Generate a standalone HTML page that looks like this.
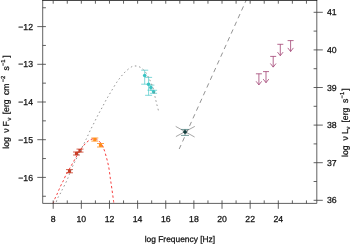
<!DOCTYPE html>
<html><head><meta charset="utf-8"><title>SED</title>
<style>html,body{margin:0;padding:0;background:#fff;overflow:hidden}svg{display:block}</style>
</head><body>
<svg width="350" height="244" viewBox="0 0 350 244">
<rect width="350" height="244" fill="#fff"/>
<path d="M53.00 203.60 C53.32 202.77 54.25 200.12 54.90 198.60 C55.55 197.08 56.22 196.00 56.90 194.50 C57.58 193.00 58.30 191.18 59.00 189.60 C59.70 188.02 60.37 186.50 61.10 185.00 C61.83 183.50 62.65 182.15 63.40 180.60 C64.15 179.05 64.50 177.82 65.60 175.70 C66.70 173.58 68.40 170.73 70.00 167.90 C71.60 165.07 73.53 161.60 75.20 158.70 C76.87 155.80 78.70 152.55 80.00 150.50 C81.30 148.45 81.97 147.68 83.00 146.40 C84.03 145.12 85.12 143.83 86.20 142.80 C87.28 141.77 88.12 140.90 89.50 140.20 C90.88 139.50 92.92 138.47 94.50 138.60 C96.08 138.73 97.55 139.53 99.00 141.00 C100.45 142.47 102.00 144.80 103.20 147.40 C104.40 150.00 105.28 153.35 106.20 156.60 C107.12 159.85 108.02 163.30 108.70 166.90 C109.38 170.50 109.77 174.52 110.30 178.20 C110.83 181.88 111.30 184.77 111.90 189.00 C112.50 193.23 113.57 201.17 113.90 203.60" fill="none" stroke="#f52828" stroke-width="0.9" stroke-dasharray="2.3 2.4"/>
<path d="M246.3 0 L179.2 149" fill="none" stroke="#777" stroke-width="0.8" stroke-dasharray="4.6 3.85" stroke-dashoffset="1.5"/>
<path d="M42.7 0 V203.4 H316.8 V0" fill="none" stroke="#3a3a3a" stroke-width="0.8"/>
<path d="M42.300000000000004 0.35 H317.2" fill="none" stroke="#111" stroke-width="0.9"/>
<path d="M53.20 203.4 v-3.0 M53.20 0.5 v3.2 M53.20 203.4 v5.4 M67.27 203.4 v-3.0 M67.27 0.5 v3.2 M81.34 203.4 v-3.0 M81.34 0.5 v3.2 M81.34 203.4 v5.4 M95.41 203.4 v-3.0 M95.41 0.5 v3.2 M109.48 203.4 v-3.0 M109.48 0.5 v3.2 M109.48 203.4 v5.4 M123.54 203.4 v-3.0 M123.54 0.5 v3.2 M137.61 203.4 v-3.0 M137.61 0.5 v3.2 M137.61 203.4 v5.4 M151.68 203.4 v-3.0 M151.68 0.5 v3.2 M165.75 203.4 v-3.0 M165.75 0.5 v3.2 M165.75 203.4 v5.4 M179.82 203.4 v-3.0 M179.82 0.5 v3.2 M193.89 203.4 v-3.0 M193.89 0.5 v3.2 M193.89 203.4 v5.4 M207.96 203.4 v-3.0 M207.96 0.5 v3.2 M222.03 203.4 v-3.0 M222.03 0.5 v3.2 M222.03 203.4 v5.4 M236.09 203.4 v-3.0 M236.09 0.5 v3.2 M250.16 203.4 v-3.0 M250.16 0.5 v3.2 M250.16 203.4 v5.4 M264.23 203.4 v-3.0 M264.23 0.5 v3.2 M278.30 203.4 v-3.0 M278.30 0.5 v3.2 M278.30 203.4 v5.4 M292.37 203.4 v-3.0 M292.37 0.5 v3.2 M306.44 203.4 v-3.0 M306.44 0.5 v3.2 M42.7 7.75 h3.2 M42.7 26.60 h3.2 M42.7 26.60 h-5.4 M42.7 45.45 h3.2 M42.7 64.30 h3.2 M42.7 64.30 h-5.4 M42.7 83.15 h3.2 M42.7 102.00 h3.2 M42.7 102.00 h-5.4 M42.7 120.85 h3.2 M42.7 139.70 h3.2 M42.7 139.70 h-5.4 M42.7 158.55 h3.2 M42.7 177.40 h3.2 M42.7 177.40 h-5.4 M42.7 196.25 h3.2 M316.8 200.30 h-3.2 M316.8 200.30 h6.0 M316.8 181.50 h-3.2 M316.8 162.70 h-3.2 M316.8 162.70 h6.0 M316.8 143.90 h-3.2 M316.8 125.10 h-3.2 M316.8 125.10 h6.0 M316.8 106.30 h-3.2 M316.8 87.50 h-3.2 M316.8 87.50 h6.0 M316.8 68.70 h-3.2 M316.8 49.90 h-3.2 M316.8 49.90 h6.0 M316.8 31.10 h-3.2 M316.8 12.30 h-3.2 M316.8 12.30 h6.0" fill="none" stroke="#3a3a3a" stroke-width="0.8"/>
<g font-family="'Liberation Sans', Arial, Helvetica, sans-serif" font-size="8.7" fill="#111" stroke="#111" stroke-width="0.25" text-rendering="geometricPrecision">
<text x="53.20" y="222.4" text-anchor="middle">8</text>
<text x="81.34" y="222.4" text-anchor="middle">10</text>
<text x="109.48" y="222.4" text-anchor="middle">12</text>
<text x="137.61" y="222.4" text-anchor="middle">14</text>
<text x="165.75" y="222.4" text-anchor="middle">16</text>
<text x="193.89" y="222.4" text-anchor="middle">18</text>
<text x="222.03" y="222.4" text-anchor="middle">20</text>
<text x="250.16" y="222.4" text-anchor="middle">22</text>
<text x="278.30" y="222.4" text-anchor="middle">24</text>
<text x="33.0" y="180.55" text-anchor="end">−16</text>
<text x="33.0" y="142.85" text-anchor="end">−15</text>
<text x="33.0" y="105.15" text-anchor="end">−14</text>
<text x="33.0" y="67.45" text-anchor="end">−13</text>
<text x="33.0" y="29.75" text-anchor="end">−12</text>
<text x="327.0" y="203.40">36</text>
<text x="327.0" y="165.80">37</text>
<text x="327.0" y="128.20">38</text>
<text x="327.0" y="90.60">39</text>
<text x="327.0" y="53.00">40</text>
<text x="327.0" y="15.40">41</text>
<text x="179.9" y="241.8" text-anchor="middle" font-size="8.4">log Frequency [Hz]</text>
<text transform="translate(8.9 148.2) rotate(-90)" font-size="8.7"><tspan x="-0.5" y="0">log</tspan><tspan x="15.4" y="0">ν</tspan><tspan x="21.7" y="0">F</tspan><tspan x="27.7" y="1.9" font-size="5.8">ν</tspan><tspan x="33.9" y="0">[erg</tspan><tspan x="53.2" y="0">cm</tspan><tspan x="65.9" y="-3.6" font-size="5.8">−2</tspan><tspan x="77.8" y="0">s</tspan><tspan x="82.2" y="-3.6" font-size="5.8">−1</tspan><tspan x="90.4" y="0">]</tspan></text>
<text transform="translate(347.7 156.4) rotate(-90)" font-size="8.7"><tspan x="-0.5" y="0">log</tspan><tspan x="15.9" y="0">ν</tspan><tspan x="22.5" y="0">L</tspan><tspan x="27.0" y="1.9" font-size="5.8">ν</tspan><tspan x="33.8" y="0">[erg</tspan><tspan x="53.4" y="0">s</tspan><tspan x="58.0" y="-3.6" font-size="5.8">−1</tspan><tspan x="65.6" y="0">]</tspan></text>
</g>
<g stroke="#c93d26" fill="#c93d26" stroke-width="0.8"><path d="M69.5 169.6 V172.8 M66.0 169.6 h7.0 M66.0 172.8 h7.0" fill="none"/><rect x="67.9" y="169.6" width="3.2" height="3.2" stroke="none"/></g>
<g stroke="#c93d26" fill="#c93d26" stroke-width="0.8"><path d="M76.5 152.0 V155.0 M73.0 152.0 h7.0 M73.0 155.0 h7.0" fill="none"/><rect x="74.9" y="151.9" width="3.2" height="3.2" stroke="none"/></g>
<g stroke="#c93d26" fill="#c93d26" stroke-width="0.8"><path d="M80.0 149.1 V152.1 M76.5 149.1 h7.0 M76.5 152.1 h7.0" fill="none"/><rect x="78.4" y="149.0" width="3.2" height="3.2" stroke="none"/></g>
<g stroke="#ff8c18" fill="#ff8c18" stroke-width="0.8"><path d="M94.8 138.0 V141.1 M91.3 138.0 h7.0 M91.3 141.1 h7.0" fill="none"/><rect x="93.2" y="137.9" width="3.2" height="3.2" stroke="none"/></g>
<g stroke="#ff8c18" fill="#ff8c18" stroke-width="0.8"><path d="M100.5 143.5 V147.0 M97.0 143.5 h7.0 M97.0 147.0 h7.0" fill="none"/><rect x="98.9" y="143.6" width="3.2" height="3.2" stroke="none"/></g>
<g stroke="#3cc4c4" fill="#3cc4c4" stroke-width="0.65"><path d="M144.7 70.2 V84.2 M141.2 70.2 h7.0 M141.2 84.2 h7.0" fill="none"/><circle cx="144.7" cy="75.5" r="1.8" stroke="none"/></g>
<g stroke="#3cc4c4" fill="#3cc4c4" stroke-width="0.65"><path d="M148.6 77.4 V95.3 M145.1 77.4 h7.0 M145.1 95.3 h7.0" fill="none"/><circle cx="148.6" cy="84.2" r="1.8" stroke="none"/></g>
<g stroke="#3cc4c4" fill="#3cc4c4" stroke-width="0.65"><path d="M150.9 85.1 V90.2 M147.4 85.1 h7.0 M147.4 90.2 h7.0" fill="none"/><circle cx="150.9" cy="87.5" r="1.8" stroke="none"/></g>
<g stroke="#3cc4c4" fill="#3cc4c4" stroke-width="0.65"><path d="M153.6 90.3 V93.3 M150.1 90.3 h7.0 M150.1 93.3 h7.0" fill="none"/><circle cx="153.6" cy="91.8" r="1.8" stroke="none"/></g>
<path d="M55.80 203.60 C56.07 202.77 56.73 200.12 57.40 198.60 C58.07 197.08 58.98 196.00 59.80 194.50 C60.62 193.00 61.07 192.05 62.30 189.60 C63.53 187.15 65.57 183.48 67.20 179.80 C68.83 176.12 70.38 171.40 72.10 167.50 C73.82 163.60 75.42 160.60 77.50 156.40 C79.58 152.20 83.02 145.47 84.60 142.30 C86.18 139.13 86.12 139.27 87.00 137.40 C87.88 135.53 88.73 133.50 89.90 131.10 C91.07 128.70 92.63 125.72 94.00 123.00 C95.37 120.28 96.73 117.40 98.10 114.80 C99.47 112.20 100.83 109.93 102.20 107.40 C103.57 104.87 104.80 102.27 106.30 99.60 C107.80 96.93 109.45 94.30 111.20 91.40 C112.95 88.50 115.13 84.70 116.80 82.20 C118.47 79.70 119.75 78.17 121.20 76.40 C122.65 74.63 123.77 73.20 125.50 71.60 C127.23 70.00 129.82 67.73 131.60 66.80 C133.38 65.87 134.75 65.92 136.20 66.00 C137.65 66.08 139.10 66.68 140.30 67.30 C141.50 67.92 142.37 68.65 143.40 69.70 C144.43 70.75 145.67 72.33 146.50 73.60 C147.33 74.87 147.78 76.10 148.40 77.30 C149.02 78.50 149.60 79.50 150.20 80.80 C150.80 82.10 151.48 83.77 152.00 85.10 C152.52 86.43 152.80 86.87 153.30 88.80 C153.80 90.73 154.55 94.67 155.00 96.70 C155.45 98.73 155.67 99.60 156.00 101.00 C156.33 102.40 156.65 103.73 157.00 105.10 C157.35 106.47 157.87 108.28 158.10 109.20 C158.33 110.12 158.35 110.37 158.40 110.60" fill="none" stroke="#808080" stroke-width="0.85" stroke-dasharray="1.5 2.8" stroke-dashoffset="2.45" id="gc"/>
<path d="M175.7 126.4 L194.6 137 M175.9 136.6 L194.8 126.4" stroke="#808080" stroke-width="0.7" fill="none"/>
<g stroke="#3f7472" fill="#3f7472" stroke-width="0.7"><path d="M185.0 129.45 V135.4 M181.0 129.45 h8.0 M181.0 135.4 h8.0" fill="none"/><path d="M185.0 131.9 L185.1 132.0 L185.0 132.1 L184.9 132.0 Z" stroke="none"/></g>
<path d="M185 129.7 L187.1 131.9 L185 134.1 L182.9 131.9 Z" fill="#123c3c" stroke="#123c3c" stroke-width="0.3" stroke-linejoin="round"/>
<path d="M255.89999999999998 73.8 h6 M258.9 73.8 V84.9 M256.09999999999997 81.30000000000001 L258.9 84.9 L261.7 81.30000000000001" fill="none" stroke="#a24274" stroke-width="0.8" stroke-linejoin="miter"/>
<path d="M263.0 71.6 h6 M266.0 71.6 V82.7 M263.2 79.10000000000001 L266.0 82.7 L268.8 79.10000000000001" fill="none" stroke="#a24274" stroke-width="0.8" stroke-linejoin="miter"/>
<path d="M270.2 56.4 h6 M273.2 56.4 V67.1 M270.4 63.49999999999999 L273.2 67.1 L276.0 63.49999999999999" fill="none" stroke="#a24274" stroke-width="0.8" stroke-linejoin="miter"/>
<path d="M277.3 44.3 h6 M280.3 44.3 V55.7 M277.5 52.1 L280.3 55.7 L283.1 52.1" fill="none" stroke="#a24274" stroke-width="0.8" stroke-linejoin="miter"/>
<path d="M287.6 40.6 h6 M290.6 40.6 V51.5 M287.8 47.9 L290.6 51.5 L293.40000000000003 47.9" fill="none" stroke="#a24274" stroke-width="0.8" stroke-linejoin="miter"/>
</svg>
</body></html>
